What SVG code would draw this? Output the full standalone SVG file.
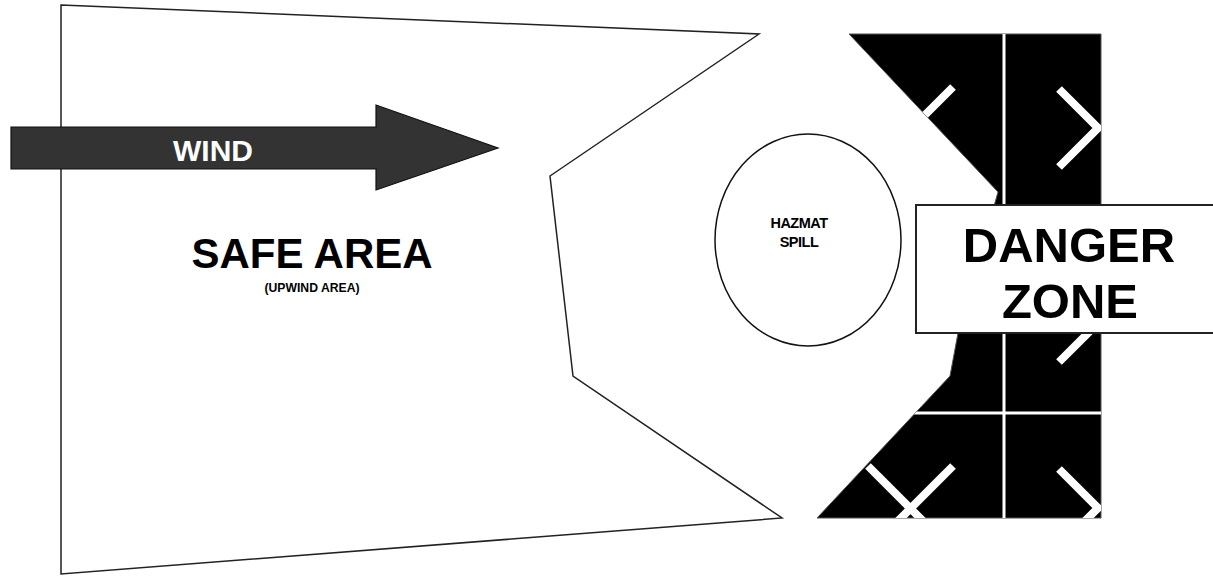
<svg xmlns="http://www.w3.org/2000/svg" width="1213" height="577" viewBox="0 0 1213 577">
<style>
.t{font-family:"Liberation Sans",Arial,sans-serif;font-weight:bold;text-anchor:middle;fill:#000}
.grid{stroke:#fff;stroke-width:3;fill:none}
.chev{stroke:#fff;stroke-width:8;fill:none;stroke-linecap:butt;stroke-linejoin:miter}
</style>
<defs>
<clipPath id="dz"><polygon points="849,34 1101,34 1101,518 817,518 950,376 958,333 998,192"/></clipPath>
</defs>
<rect width="1213" height="577" fill="#fff"/>
<g id="safe-area">
<polygon points="61,5 759,34 550,176 573,376 782,518 61,574" fill="#fff" stroke="#222" stroke-width="1.5"/>
<text class="t" x="312" y="268" font-size="42">SAFE AREA</text>
<text class="t" x="312" y="292" font-size="13" textLength="95" lengthAdjust="spacingAndGlyphs">(UPWIND AREA)</text>
</g>
<g id="wind">
<polygon points="11,127 376,127 376,105 498,148 376,190 376,169 11,169" fill="#333" stroke="#111" stroke-width="1.2"/>
<text class="t" x="213" y="161" font-size="30" style="fill:#fff">WIND</text>
</g>
<g id="danger-area">
<polygon points="849,34 1101,34 1101,518 817,518 950,376 958,333 998,192" fill="#000" stroke="#555" stroke-width="1"/>
<g clip-path="url(#dz)">
<line class="grid" x1="1004" y1="34" x2="1004" y2="518"/>
<line class="grid" x1="900" y1="413" x2="1101" y2="413"/>
<polyline class="chev" points="953,87 915,125 953,163"/>
<polyline class="chev" points="1059,89 1098,128 1059,167"/>
<polyline class="chev" points="1059,284 1098,323 1059,362"/>
<polyline class="chev" points="1059,469 1098,508 1059,547"/>
<line class="chev" x1="868" y1="466" x2="925" y2="523"/>
<line class="chev" x1="953" y1="466" x2="896" y2="523"/>
</g>
</g>
<g id="hazmat-spill">
<ellipse cx="808" cy="240" rx="93" ry="106" fill="#fff" stroke="#111" stroke-width="1.5"/>
<text class="t" x="799" y="228" font-size="14.5" letter-spacing="-0.5">HAZMAT</text>
<text class="t" x="799" y="247" font-size="14.5" letter-spacing="-0.5">SPILL</text>
</g>
<g id="danger-zone">
<rect x="916" y="205" width="310" height="128" fill="#fff" stroke="#222" stroke-width="2"/>
<text class="t" x="1069" y="262" font-size="49">DANGER</text>
<text class="t" x="1070" y="318" font-size="49">ZONE</text>
</g>
<g id="connectors"/>
</svg>
